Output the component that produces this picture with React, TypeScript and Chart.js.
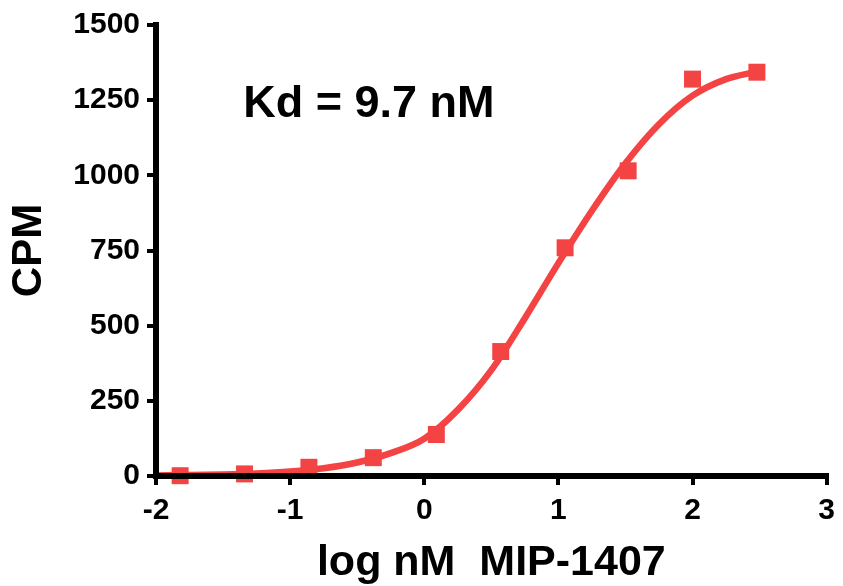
import React, { useEffect, useRef } from "react";
import { Chart, registerables } from "chart.js";

Chart.register(...registerables);

// Measured binding data (log nM vs CPM)
const logConc = [-1.82, -1.34, -0.86, -0.38, 0.09, 0.57, 1.05, 1.52, 2.0, 2.48];
const cpm = [1, 7, 29, 61, 138, 414, 759, 1015, 1320, 1343];

// Fitted curve
const fitX = [-2, -1.75, -1.5, -1.25, -1, -0.75, -0.5, -0.25, 0, 0.25, 0.5, 0.75, 1, 1.25, 1.5, 1.75, 2, 2.25, 2.48];
const fitY = [2, 3, 5, 8.5, 15, 26, 45, 76, 124, 220, 352, 525, 708, 882, 1040, 1170, 1265, 1320, 1345];

// Axis ticks
const xTickValues = [-2, -1, 0, 1, 2, 3];
const yTickValues = [0, 250, 500, 750, 1000, 1250, 1500];

const xTitle = "log nM  MIP-1407";
const yTitle = "CPM";
const kdLabel = "Kd = 9.7 nM";
const kdAnchor = { x: -1.35, y: 1194 };

const RED = "#F34343";
const FONT = "'Liberation Sans', Arial, Helvetica, sans-serif";

export default function App() {
  const ref = useRef<HTMLCanvasElement | null>(null);

  useEffect(() => {
    const canvas = ref.current;
    if (!canvas) return;

    const kdPlugin = {
      id: "kdLabel",
      afterDatasetsDraw(chart: any) {
        const { ctx, scales } = chart;
        const px = scales.x.getPixelForValue(kdAnchor.x);
        const py = scales.y.getPixelForValue(kdAnchor.y);
        ctx.save();
        ctx.font = `bold 45px ${FONT}`;
        ctx.fillStyle = "#000";
        ctx.textAlign = "left";
        ctx.textBaseline = "alphabetic";
        ctx.fillText(kdLabel, px, py);
        ctx.restore();
      },
    };

    const chart = new Chart(canvas, {
      type: "scatter",
      data: {
        datasets: [
          {
            label: "data",
            data: logConc.map((x, i) => ({ x, y: cpm[i] })),
            pointStyle: "rect",
            pointRadius: 12,
            pointHoverRadius: 12,
            pointBackgroundColor: RED,
            pointBorderColor: RED,
            pointBorderWidth: 0,
            showLine: false,
            order: 0,
            clip: false as any,
          },
          {
            label: "fit",
            data: fitX.map((x, i) => ({ x, y: fitY[i] })),
            showLine: true,
            borderColor: RED,
            borderWidth: 6.5,
            pointRadius: 0,
            cubicInterpolationMode: "monotone",
            order: 1,
            clip: false as any,
          },
        ],
      },
      options: {
        animation: false,
        responsive: false,
        devicePixelRatio: 1,
        layout: { padding: { top: 25, right: 10, left: 0, bottom: 0 } },
        plugins: {
          legend: { display: false },
          tooltip: { enabled: false },
        },
        scales: {
          x: {
            type: "linear",
            min: -2,
            max: 3,
            afterBuildTicks: (scale: any) => {
              scale.ticks = xTickValues.map((v) => ({ value: v }));
            },
            afterFit: (scale: any) => {
              scale.height = 110;
            },
            grid: {
              drawOnChartArea: false,
              drawTicks: true,
              tickLength: 9,
              lineWidth: 4,
              color: "#000",
            },
            border: { display: true, width: 6, color: "#000", z: 1 },
            ticks: {
              padding: 8,
              color: "#000",
              font: { family: FONT, size: 30, weight: "bold" },
              callback: (v: any) => String(v),
            },
            title: {
              display: true,
              text: xTitle,
              color: "#000",
              font: { family: FONT, size: 43, weight: "bold", lineHeight: 1 },
              padding: { top: 0, bottom: 1 },
            },
          },
          y: {
            type: "linear",
            min: 0,
            max: 1500,
            afterBuildTicks: (scale: any) => {
              scale.ticks = yTickValues.map((v) => ({ value: v }));
            },
            afterFit: (scale: any) => {
              scale.width = 156;
            },
            grid: {
              drawOnChartArea: false,
              drawTicks: true,
              tickLength: 9,
              lineWidth: 4,
              color: "#000",
            },
            border: { display: true, width: 6, color: "#000", z: 1 },
            ticks: {
              padding: 7,
              color: "#000",
              font: { family: FONT, size: 30, weight: "bold" },
              callback: (v: any) => String(v),
            },
            title: {
              display: true,
              text: yTitle,
              color: "#000",
              font: { family: FONT, size: 42, weight: "bold", lineHeight: 1.2 },
              padding: { top: 4, bottom: 0 },
            },
          },
        },
      },
      plugins: [kdPlugin],
    } as any);

    return () => chart.destroy();
  }, []);

  return (
    <div style={{ position: "absolute", left: 0, top: 0, width: 843, height: 586, background: "#fff" }}>
      <canvas ref={ref} width={843} height={586} style={{ display: "block", width: 843, height: 586 }} />
    </div>
  );
}
